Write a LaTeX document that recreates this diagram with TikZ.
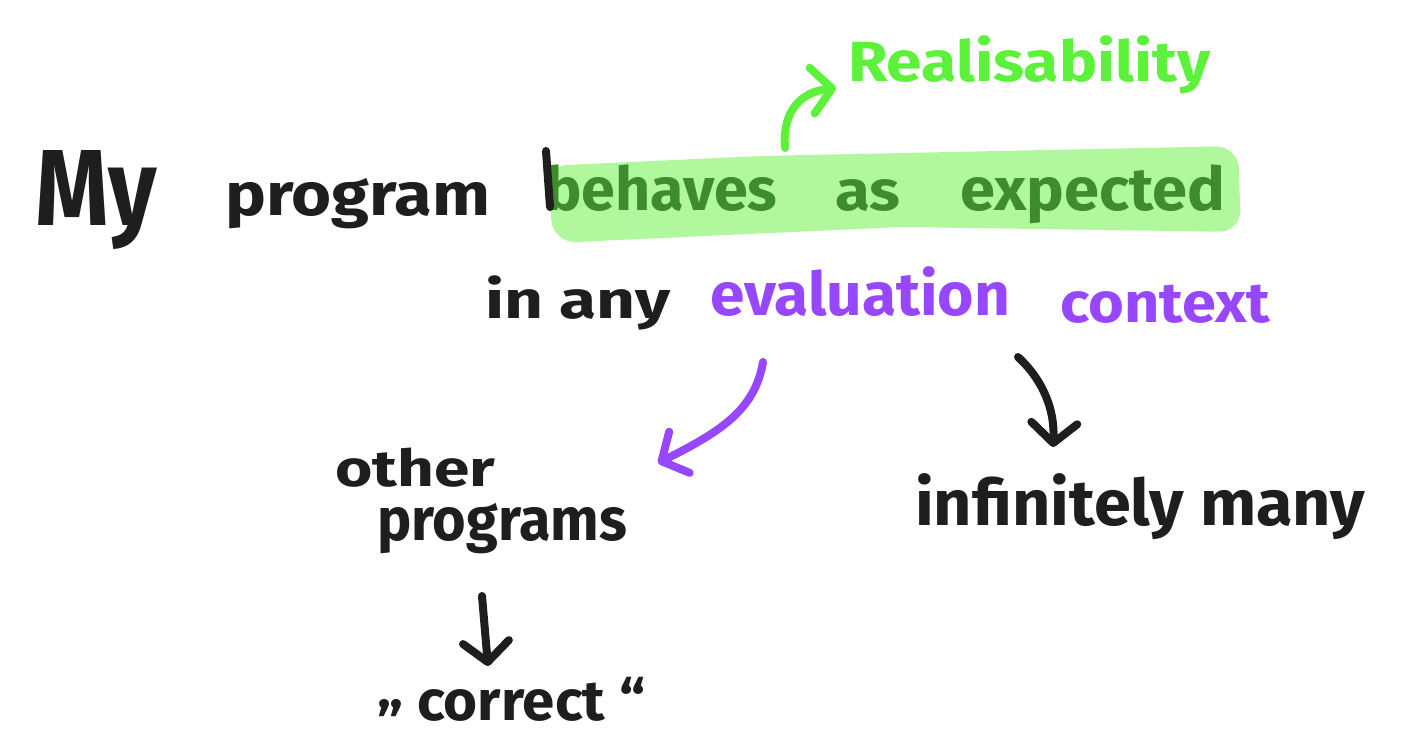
\documentclass[tikz,border=0pt]{standalone}
\usepackage{fontspec}
\setmainfont{Fira Sans}
\usepackage{graphicx}
\usetikzlibrary{arrows.meta}

\definecolor{ink}{HTML}{1E1E1E}
\definecolor{hlgreen}{HTML}{B0F79E}
\definecolor{dkgreen}{HTML}{3E8C2B}
\definecolor{brgreen}{HTML}{5CF23A}
\definecolor{evalpurple}{HTML}{9747FF}

% scale a word to a given width and x-height
\newcommand\hw[3]{\resizebox{#1}{#2}{\raisebox{0pt}[\fontcharht\font`x][0pt]{#3}}}

\tikzset{
  word/.style={anchor=base west, inner sep=0pt, font=\bfseries, text=ink},
  barb/.style={-{Straight Barb[length=20pt,width=46pt,round]}, line width=8pt,
               line cap=round, line join=round},
}

\begin{document}
\begin{tikzpicture}[x=1pt,y=-1pt]
\useasboundingbox (0,0) rectangle (1418,733);

% marker highlight behind the key phrase
\fill[hlgreen, rounded corners=22pt]
  (545,166) -- (760,156) -- (1238,146) -- (1241,232) -- (900,227) -- (554,243) -- cycle;

% first line
\node[word] (my) at (35,225) {\resizebox{122pt}{75pt}{My}};
\node[word] (prog) at (225,215) {\hw{265pt}{32pt}{program}};
\node[word, text=dkgreen] (beh) at (545,210) {\hw{232pt}{32pt}{behaves}};
\draw[ink, line width=8pt, line cap=round] (546,151) -- (550,207);
\node[word, text=dkgreen] (as) at (835,210) {\hw{65pt}{30pt}{as}};
\node[word, text=dkgreen] (exp) at (960,210) {\hw{265pt}{32pt}{expected}};

% annotation above
\node[word, text=brgreen] (real) at (848,82) {\hw{362pt}{30pt}{Realisability}};

% second line
\node[word] (inany) at (485,318) {\hw{185pt}{28pt}{in any}};
\node[word, text=evalpurple] (eval) at (710,315) {\hw{300pt}{32pt}{evaluation}};
\node[word, text=evalpurple] (ctx) at (1060,322) {\hw{210pt}{30pt}{context}};

% branches
\node[word] (other) at (335,486) {\hw{160pt}{27pt}{other}};
\node[word] (progs) at (377,540) {\hw{250pt}{32pt}{programs}};
\node[word] (correct) at (377,720) {\hw{268pt}{30pt}{\raisebox{0.22em}{„} correct “}};
\node[word] (inf) at (915,525) {\hw{450pt}{34pt}{infinitely many}};

% connector end points
\coordinate (g0) at (785,148);
\coordinate (g1) at (836,88);
\coordinate (p0) at (763,362);
\coordinate (p1) at (658,463);
\coordinate (k0) at (1018,357);
\coordinate (k1) at (1053,447);
\coordinate (d0) at (482,596);
\coordinate (d1) at (488,666);

\draw[barb, brgreen] (g0) .. controls (782,112) and (800,92) .. (g1);
\draw[barb, evalpurple] (p0) .. controls (755,410) and (720,432) .. (p1);
\draw[barb, ink] (k0) .. controls (1043,380) and (1055,410) .. (k1);
\draw[barb, ink] (d0) -- (d1);

\end{tikzpicture}
\end{document}
